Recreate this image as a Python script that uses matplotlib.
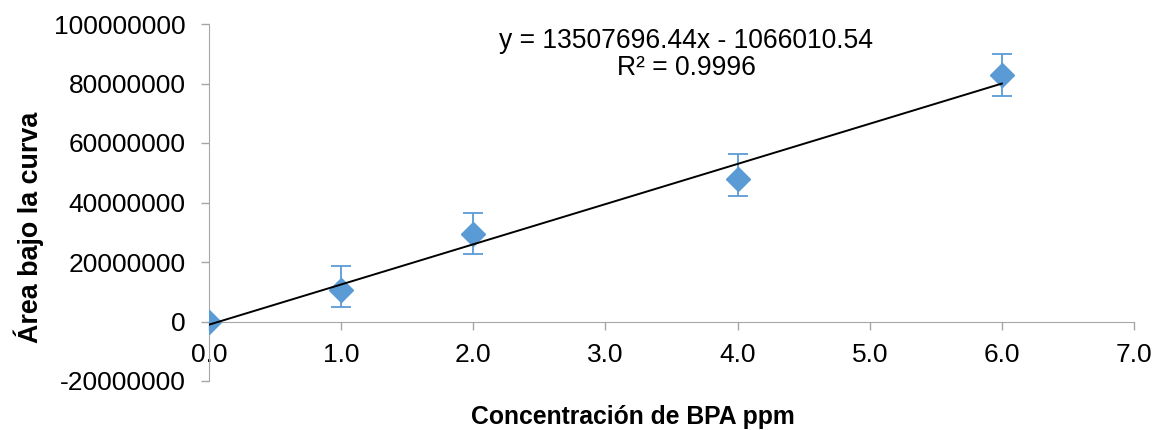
import matplotlib
matplotlib.use("Agg")
import matplotlib.pyplot as plt
from matplotlib.ticker import FuncFormatter

plt.rcParams['font.family'] = ['Liberation Sans', 'DejaVu Sans']

# Data
concentration = [0.0, 1.0, 2.0, 4.0, 6.0]
area = [0.0, 10.5e6, 29.5e6, 47.8e6, 83.0e6]
err_lower = [0.0, 5.5e6, 6.8e6, 5.6e6, 7.1e6]
err_upper = [0.0, 8.0e6, 7.0e6, 8.4e6, 7.0e6]
slope = 13507696.44
intercept = -1066010.54
r2 = 0.9996
x_ticks = [0, 1, 2, 3, 4, 5, 6, 7]
y_ticks = [-20000000, 0, 20000000, 40000000, 60000000, 80000000, 100000000]

blue = '#5B9BD5'

fig = plt.figure(figsize=(11.58, 4.30), dpi=100)
ax = fig.add_axes([209/1158, 1-381/430, (1134-209)/1158, (381-24)/430])

ax.errorbar(concentration, area, yerr=[err_lower, err_upper], fmt='none',
            ecolor=blue, elinewidth=1.3, capsize=7, capthick=1.3, zorder=2)
ax.plot(concentration, area, linestyle='none', marker='D', markersize=12,
        color=blue, zorder=3)

xfit = [min(concentration), max(concentration)]
yfit = [slope * v + intercept for v in xfit]
ax.plot(xfit, yfit, color='black', linewidth=1.4, zorder=4)

ax.set_xlim(0, 7)
ax.set_ylim(-20000000, 100000000)
ax.set_xticks(x_ticks)
ax.set_yticks(y_ticks)
ax.xaxis.set_major_formatter(FuncFormatter(lambda v, p: f"{v:.1f}"))
ax.yaxis.set_major_formatter(FuncFormatter(lambda v, p: f"{int(round(v))}"))

for s in ['top', 'right']:
    ax.spines[s].set_visible(False)
ax.spines['bottom'].set_position(('data', 0))
ax.spines['bottom'].set_color('#A6A6A6')
ax.spines['left'].set_color('#A6A6A6')
ax.tick_params(axis='both', colors='#A6A6A6', labelcolor='black', labelsize=19,
               length=6, width=1)
ax.tick_params(axis='x', pad=9.5)
ax.tick_params(axis='y', pad=11)

fig.text(633/1158, 1-417/430, 'Concentración de BPA ppm', ha='center', va='center',
         fontsize=17.8, fontweight='bold')
fig.text(29/1158, 1-227/430, 'Área bajo la curva', ha='center', va='center',
         rotation=90, fontsize=19.4, fontweight='bold')

fig.text(686/1158, 1-41/430, f'y = {slope:.2f}x - {abs(intercept):.2f}',
         ha='center', va='center', fontsize=19.1)
fig.text(686/1158, 1-68/430, f'R² = {r2}', ha='center', va='center', fontsize=19.1)

fig.savefig('out.png', dpi=100)
